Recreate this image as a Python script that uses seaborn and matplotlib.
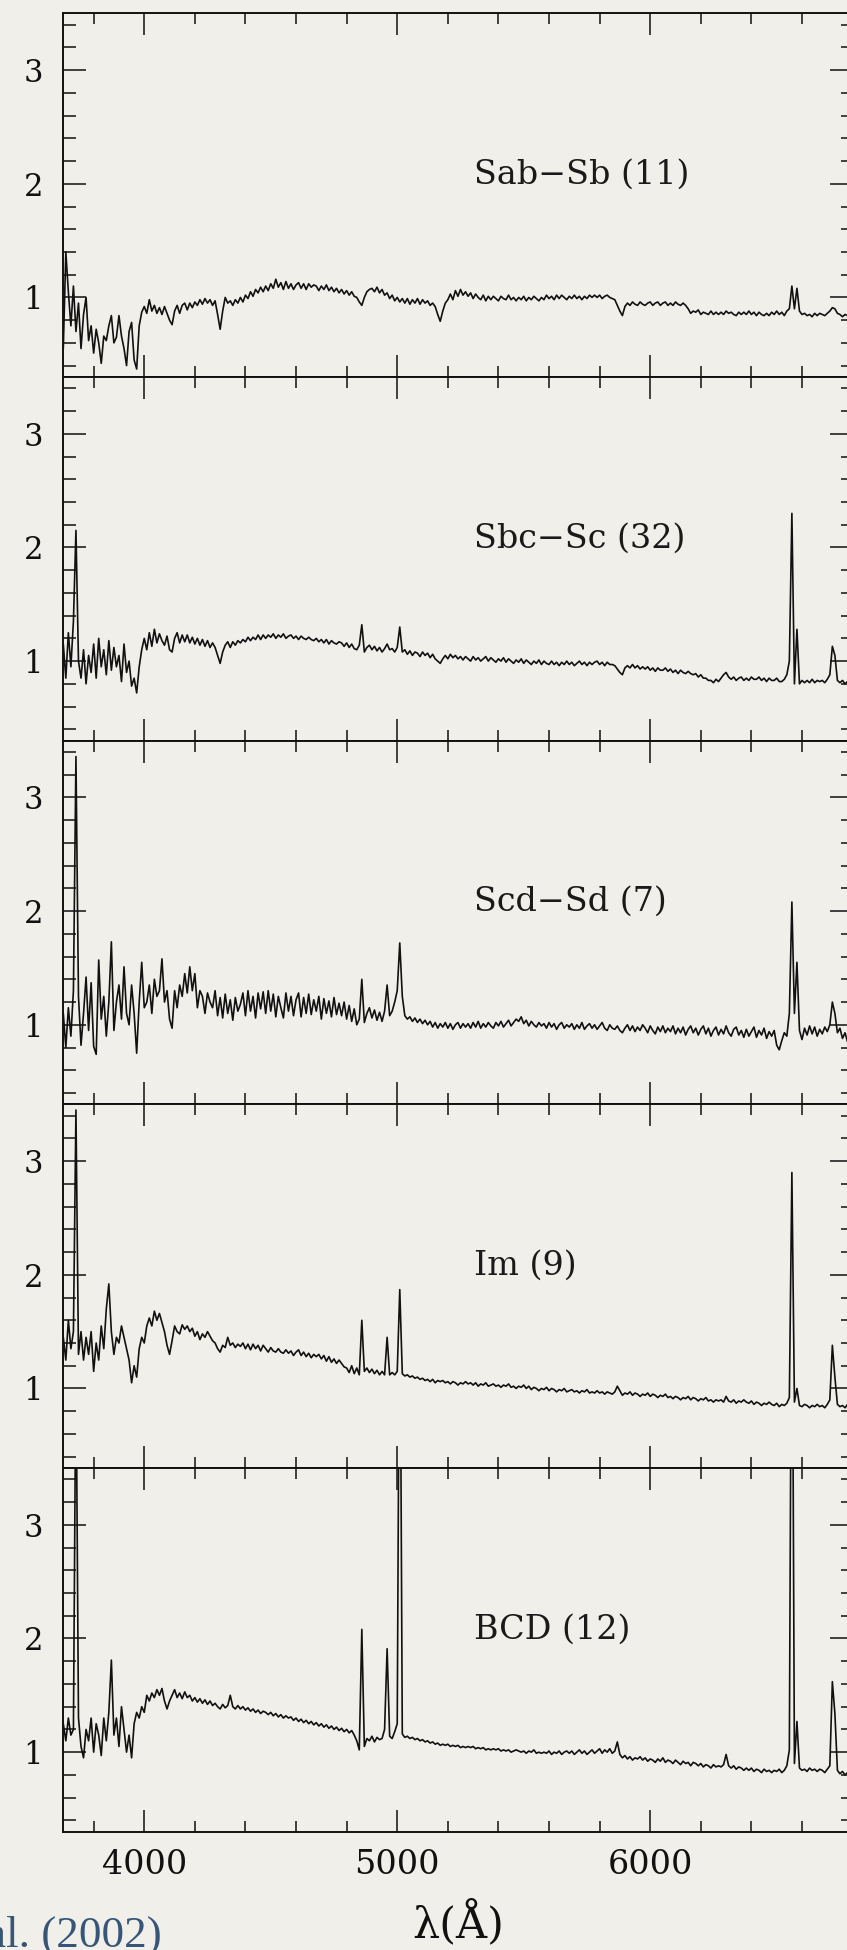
import numpy as np
import pandas as pd
import matplotlib
matplotlib.use("Agg")
import matplotlib.pyplot as plt
from matplotlib.ticker import MultipleLocator, FixedLocator
import seaborn as sns

# Wavelength sampling of the template spectra (Angstrom)
WL_START = 3680
WL_STEP = 10

# Normalised mean spectra, one value per 10 A step from 3680 A, rows of 100 A
sab_sb = [
    0.55, 1.40, 1.05, 0.75, 1.10, 0.70, 0.95, 0.55, 0.85, 1.00,
    0.62, 0.75, 0.51, 0.72, 0.60, 0.42, 0.66, 0.62, 0.75, 0.84,
    0.60, 0.65, 0.84, 0.66, 0.55, 0.40, 0.70, 0.78, 0.45, 0.37,
    0.75, 0.87, 0.92, 0.86, 0.98, 0.88, 0.93, 0.86, 0.91, 0.85,
    0.92, 0.86, 0.80, 0.76, 0.88, 0.93, 0.86, 0.93, 0.95, 0.89,
    0.95, 0.91, 0.96, 0.93, 0.98, 0.94, 0.99, 0.95, 0.98, 0.93,
    0.97, 0.85, 0.72, 0.88, 1.00, 0.95, 0.97, 0.93, 0.98, 0.95,
    1.00, 0.96, 1.02, 0.99, 1.05, 1.01, 1.07, 1.04, 1.09, 1.05,
    1.10, 1.06, 1.12, 1.08, 1.16, 1.09, 1.13, 1.07, 1.14, 1.08,
    1.12, 1.07, 1.11, 1.13, 1.08, 1.12, 1.07, 1.12, 1.09, 1.11,
    1.10, 1.06, 1.10, 1.07, 1.11, 1.06, 1.09, 1.05, 1.08, 1.04,
    1.07, 1.03, 1.06, 1.02, 1.05, 1.01, 1.00, 0.96, 0.93, 1.00,
    1.05, 1.07, 1.08, 1.05, 1.09, 1.04, 1.07, 1.02, 1.04, 0.99,
    1.02, 0.97, 1.00, 0.96, 0.99, 0.95, 0.99, 0.94, 0.98, 0.95,
    0.99, 0.94, 0.98, 0.95, 0.97, 0.93, 0.95, 0.92, 0.85, 0.79,
    0.88, 0.95, 0.98, 1.03, 0.98, 1.06, 1.01, 1.07, 1.02, 1.05,
    1.01, 1.04, 0.99, 1.03, 1.00, 0.98, 1.02, 0.97, 1.01, 0.98,
    1.01, 0.99, 0.97, 1.01, 0.99, 0.98, 1.02, 0.98, 1.00, 0.97,
    1.00, 0.98, 1.01, 0.97, 1.00, 0.98, 1.01, 0.99, 0.97, 1.00,
    0.98, 1.02, 0.99, 1.01, 0.98, 1.02, 0.99, 1.02, 1.00, 0.98,
    1.01, 0.99, 1.02, 0.99, 1.01, 0.98, 1.01, 0.99, 1.02, 1.00,
    1.02, 1.00, 1.02, 0.99, 1.01, 1.02, 1.00, 0.99, 0.98, 0.93,
    0.88, 0.84, 0.92, 0.95, 0.93, 0.96, 0.94, 0.93, 0.96, 0.94,
    0.93, 0.95, 0.96, 0.93, 0.95, 0.96, 0.93, 0.95, 0.96, 0.93,
    0.95, 0.93, 0.96, 0.94, 0.93, 0.95, 0.93, 0.90, 0.86, 0.88,
    0.87, 0.89, 0.85, 0.87, 0.86, 0.85, 0.88, 0.85, 0.87, 0.85,
    0.87, 0.85, 0.88, 0.86, 0.87, 0.85, 0.84, 0.87, 0.85, 0.87,
    0.85, 0.88, 0.85, 0.87, 0.84, 0.87, 0.85, 0.84, 0.86, 0.84,
    0.87, 0.85, 0.88, 0.85, 0.87, 0.84, 0.88, 0.90, 1.10, 0.90,
    1.08, 0.88, 0.85, 0.86, 0.84, 0.85, 0.83, 0.86, 0.84, 0.86,
    0.85, 0.84, 0.86, 0.88, 0.91, 0.90, 0.86, 0.85, 0.83, 0.85,
    0.84, 0.85, 0.84,
]

sbc_sc = [
    1.15, 0.85, 1.25, 0.95, 1.35, 2.15, 1.00, 0.85, 1.10, 0.80,
    1.05, 0.90, 1.15, 0.85, 1.20, 0.95, 1.10, 0.88, 1.18, 0.92,
    1.12, 0.95, 1.05, 0.82, 1.15, 0.90, 1.00, 0.78, 0.85, 0.72,
    0.95, 1.10, 1.20, 1.10, 1.25, 1.13, 1.28, 1.16, 1.24, 1.18,
    1.14, 1.22, 1.10, 1.08, 1.20, 1.25, 1.16, 1.23, 1.17, 1.23,
    1.16, 1.21, 1.15, 1.20, 1.14, 1.19, 1.13, 1.18, 1.12, 1.16,
    1.12, 1.05, 0.98, 1.08, 1.14, 1.17, 1.12, 1.17, 1.14, 1.18,
    1.16, 1.19, 1.17, 1.21, 1.18, 1.21, 1.19, 1.23, 1.19, 1.23,
    1.20, 1.23, 1.21, 1.24, 1.20, 1.23, 1.21, 1.24, 1.20, 1.22,
    1.23, 1.20, 1.22, 1.19, 1.22, 1.20, 1.19, 1.21, 1.19, 1.18,
    1.20, 1.17, 1.19, 1.16, 1.19, 1.15, 1.18, 1.16, 1.15, 1.17,
    1.16, 1.13, 1.16, 1.12, 1.15, 1.11, 1.10, 1.14, 1.32, 1.08,
    1.12, 1.14, 1.10, 1.13, 1.09, 1.12, 1.08, 1.11, 1.15, 1.10,
    1.11, 1.08, 1.12, 1.30, 1.08, 1.10, 1.06, 1.09, 1.05, 1.08,
    1.07, 1.04, 1.08, 1.05, 1.07, 1.03, 1.06, 1.02, 1.00, 0.98,
    1.02, 1.05, 1.02, 1.06, 1.03, 1.05, 1.02, 1.04, 1.01, 1.04,
    1.02, 1.00, 1.04, 1.01, 1.03, 1.00, 1.02, 1.04, 1.00, 1.03,
    1.01, 0.99, 1.02, 1.00, 1.03, 0.99, 1.02, 1.00, 0.98, 1.01,
    0.99, 1.02, 0.98, 1.01, 0.99, 0.97, 1.00, 0.98, 1.01, 0.97,
    1.00, 0.98, 0.97, 1.00, 0.97, 0.99, 0.96, 0.99, 0.97, 1.00,
    0.97, 0.99, 0.96, 0.98, 1.00, 0.97, 0.99, 0.96, 0.99, 0.97,
    0.99, 1.00, 0.97, 0.99, 0.96, 0.99, 0.97, 0.97, 0.96, 0.93,
    0.90, 0.88, 0.94, 0.96, 0.94, 0.97, 0.94, 0.96, 0.93, 0.95,
    0.93, 0.95, 0.92, 0.94, 0.91, 0.94, 0.92, 0.92, 0.94, 0.91,
    0.93, 0.90, 0.92, 0.89, 0.92, 0.90, 0.89, 0.91, 0.89, 0.88,
    0.89, 0.86, 0.88, 0.85, 0.85, 0.83, 0.83, 0.81, 0.84, 0.82,
    0.85, 0.88, 0.90, 0.86, 0.84, 0.86, 0.83, 0.85, 0.86, 0.83,
    0.85, 0.83, 0.86, 0.84, 0.84, 0.86, 0.83, 0.85, 0.82, 0.85,
    0.83, 0.83, 0.85, 0.82, 0.82, 0.84, 0.88, 1.00, 2.30, 0.80,
    1.28, 0.80, 0.83, 0.81, 0.83, 0.81, 0.84, 0.81, 0.83, 0.82,
    0.83, 0.81, 0.84, 0.88, 1.13, 1.05, 0.83, 0.81, 0.83, 0.80,
    0.82, 0.81, 0.82,
]

scd_sd = [
    1.10, 0.80, 1.15, 0.90, 1.30, 3.36, 1.25, 0.82, 1.10, 1.42,
    0.95, 1.37, 0.81, 0.74, 1.57, 1.05, 1.25, 0.90, 1.20, 1.73,
    0.95, 1.20, 1.35, 1.05, 1.51, 1.10, 1.00, 1.35, 1.10, 0.75,
    1.20, 1.55, 1.15, 1.20, 1.35, 1.10, 1.40, 1.25, 1.30, 1.58,
    1.20, 1.30, 1.05, 0.97, 1.30, 1.15, 1.35, 1.25, 1.45, 1.28,
    1.51, 1.30, 1.45, 1.15, 1.30, 1.25, 1.10, 1.28, 1.20, 1.15,
    1.30, 1.08, 1.24, 1.06, 1.27, 1.10, 1.22, 1.04, 1.24, 1.12,
    1.18, 1.28, 1.08, 1.30, 1.12, 1.25, 1.06, 1.28, 1.14, 1.29,
    1.10, 1.30, 1.12, 1.27, 1.07, 1.25, 1.15, 1.06, 1.28, 1.12,
    1.25, 1.08, 1.22, 1.28, 1.07, 1.24, 1.10, 1.27, 1.09, 1.22,
    1.12, 1.25, 1.05, 1.23, 1.10, 1.21, 1.07, 1.24, 1.09, 1.19,
    1.08, 1.20, 1.05, 1.17, 1.03, 1.14, 1.00, 1.05, 1.40, 1.02,
    1.10, 1.15, 1.06, 1.13, 1.04, 1.11, 1.03, 1.12, 1.35, 1.08,
    1.12, 1.20, 1.30, 1.72, 1.25, 1.08, 1.05, 1.07, 1.03, 1.06,
    1.02, 1.05, 1.01, 1.04, 1.00, 1.03, 0.98, 1.02, 0.97, 1.01,
    0.98, 1.02, 0.97, 1.01, 0.96, 1.00, 1.02, 0.97, 1.01, 0.98,
    1.01, 0.97, 1.02, 0.98, 1.03, 0.97, 1.01, 0.98, 1.02, 0.99,
    0.97, 1.02, 0.99, 1.03, 0.98, 1.01, 1.04, 0.99, 1.02, 1.05,
    1.03, 1.07, 1.01, 1.04, 0.99, 1.03, 1.00, 0.98, 1.02, 0.99,
    1.01, 0.97, 1.02, 0.98, 1.01, 0.96, 1.00, 1.02, 0.97, 1.00,
    0.98, 1.01, 0.96, 1.00, 0.97, 1.02, 0.96, 0.99, 1.01, 0.97,
    1.00, 0.96, 0.99, 1.02, 0.97, 0.95, 1.00, 0.97, 0.96, 0.99,
    0.95, 0.93, 0.97, 1.00, 0.95, 0.99, 0.94, 0.98, 0.95, 1.00,
    0.97, 0.93, 0.99, 0.95, 0.92, 0.98, 0.94, 0.99, 0.93, 0.97,
    0.94, 0.99, 0.92, 0.97, 0.93, 0.98, 0.91, 0.96, 0.99, 0.93,
    0.97, 0.91, 0.96, 0.99, 0.92, 0.97, 0.90, 0.95, 0.98, 0.91,
    0.96, 0.92, 0.99, 0.93, 0.90, 0.96, 0.98, 0.91, 0.95, 0.89,
    0.96, 0.90, 0.94, 0.98, 0.89, 0.95, 0.91, 0.97, 0.88, 0.94,
    0.90, 0.95, 0.82, 0.78, 0.86, 0.93, 0.90, 1.10, 2.08, 1.10,
    1.55, 0.95, 0.87, 0.97, 0.91, 0.99, 0.92, 0.98, 0.90, 0.96,
    0.92, 0.98, 0.94, 1.00, 1.20, 1.10, 0.93, 0.97, 0.88, 0.93,
    0.85, 0.92, 0.86,
]

im = [
    1.45, 1.25, 1.60, 1.35, 1.50, 3.45, 1.30, 1.50, 1.25, 1.45,
    1.30, 1.50, 1.15, 1.40, 1.25, 1.55, 1.35, 1.70, 1.92, 1.50,
    1.30, 1.45, 1.40, 1.55, 1.45, 1.35, 1.25, 1.05, 1.20, 1.10,
    1.35, 1.45, 1.40, 1.55, 1.62, 1.55, 1.68, 1.60, 1.66, 1.58,
    1.50, 1.38, 1.30, 1.42, 1.55, 1.50, 1.48, 1.56, 1.52, 1.55,
    1.50, 1.53, 1.46, 1.50, 1.43, 1.48, 1.45, 1.50, 1.46, 1.42,
    1.40, 1.35, 1.32, 1.38, 1.36, 1.45, 1.38, 1.40, 1.36, 1.39,
    1.37, 1.40, 1.35, 1.39, 1.34, 1.39, 1.35, 1.38, 1.33, 1.38,
    1.35, 1.32, 1.36, 1.33, 1.32, 1.35, 1.32, 1.31, 1.34, 1.31,
    1.33, 1.29, 1.32, 1.34, 1.29, 1.32, 1.28, 1.31, 1.27, 1.30,
    1.28, 1.30, 1.26, 1.29, 1.24, 1.28, 1.23, 1.26, 1.22, 1.25,
    1.22, 1.19, 1.18, 1.14, 1.20, 1.13, 1.18, 1.12, 1.60, 1.15,
    1.18, 1.14, 1.17, 1.13, 1.16, 1.12, 1.15, 1.12, 1.45, 1.12,
    1.14, 1.12, 1.15, 1.87, 1.13, 1.11, 1.12, 1.10, 1.11, 1.09,
    1.10, 1.08, 1.09, 1.07, 1.08, 1.06, 1.08, 1.05, 1.07, 1.06,
    1.07, 1.05, 1.06, 1.04, 1.06, 1.05, 1.03, 1.05, 1.04, 1.06,
    1.04, 1.05, 1.03, 1.05, 1.02, 1.04, 1.03, 1.05, 1.02, 1.03,
    1.04, 1.02, 1.03, 1.01, 1.03, 1.02, 1.04, 1.01, 1.02, 1.00,
    1.02, 1.01, 1.03, 1.00, 1.02, 0.99, 1.01, 1.00, 0.98, 1.00,
    0.99, 1.01, 0.98, 1.00, 0.99, 0.97, 0.99, 0.98, 1.00, 0.97,
    0.98, 0.99, 0.97, 0.98, 0.96, 0.98, 0.97, 0.99, 0.96, 0.97,
    0.96, 0.98, 0.96, 0.97, 0.95, 0.97, 0.96, 0.95, 0.97, 1.02,
    0.98, 0.94, 0.96, 0.95, 0.97, 0.94, 0.96, 0.95, 0.93, 0.95,
    0.94, 0.96, 0.93, 0.95, 0.94, 0.92, 0.94, 0.93, 0.95, 0.92,
    0.93, 0.91, 0.93, 0.92, 0.90, 0.92, 0.91, 0.93, 0.90, 0.92,
    0.91, 0.89, 0.91, 0.90, 0.92, 0.89, 0.90, 0.88, 0.90, 0.89,
    0.90, 0.88, 0.93, 0.89, 0.88, 0.90, 0.87, 0.89, 0.88, 0.90,
    0.88, 0.87, 0.89, 0.86, 0.88, 0.87, 0.85, 0.87, 0.86, 0.88,
    0.86, 0.85, 0.87, 0.84, 0.86, 0.85, 0.87, 0.92, 2.90, 0.88,
    1.00, 0.85, 0.84, 0.86, 0.85, 0.83, 0.85, 0.84, 0.86, 0.84,
    0.85, 0.83, 0.86, 0.90, 1.38, 1.10, 0.86, 0.84, 0.85, 0.83,
    0.86, 0.84, 0.85,
]

bcd = [
    1.25, 1.10, 1.30, 1.15, 1.20, 4.50, 1.30, 1.05, 0.95, 1.20,
    1.10, 1.30, 1.00, 1.25, 1.15, 0.97, 1.30, 1.10, 1.35, 1.81,
    1.15, 1.30, 1.05, 1.40, 1.20, 1.00, 1.15, 0.95, 1.25, 1.35,
    1.30, 1.40, 1.35, 1.50, 1.45, 1.52, 1.48, 1.55, 1.50, 1.56,
    1.45, 1.38, 1.45, 1.50, 1.55, 1.48, 1.52, 1.47, 1.53, 1.48,
    1.50, 1.45, 1.48, 1.44, 1.47, 1.43, 1.46, 1.42, 1.45, 1.41,
    1.43, 1.40, 1.38, 1.42, 1.39, 1.41, 1.50, 1.40, 1.38, 1.41,
    1.38, 1.40, 1.37, 1.39, 1.36, 1.38, 1.35, 1.37, 1.34, 1.36,
    1.35, 1.33, 1.35, 1.32, 1.34, 1.31, 1.33, 1.30, 1.32, 1.30,
    1.31, 1.28, 1.30, 1.27, 1.29, 1.26, 1.28, 1.25, 1.27, 1.24,
    1.26, 1.23, 1.25, 1.22, 1.24, 1.21, 1.23, 1.20, 1.22, 1.19,
    1.21, 1.18, 1.20, 1.17, 1.19, 1.15, 1.10, 1.02, 2.08, 1.05,
    1.12, 1.10, 1.14, 1.09, 1.13, 1.11, 1.12, 1.20, 1.91, 1.14,
    1.12, 1.18, 1.25, 5.60, 1.16, 1.13, 1.14, 1.12, 1.13, 1.11,
    1.12, 1.10, 1.11, 1.09, 1.10, 1.08, 1.09, 1.07, 1.08, 1.06,
    1.07, 1.06, 1.07, 1.05, 1.06, 1.05, 1.06, 1.04, 1.05, 1.04,
    1.05, 1.04, 1.05, 1.03, 1.04, 1.03, 1.04, 1.02, 1.03, 1.02,
    1.03, 1.02, 1.03, 1.01, 1.02, 1.01, 1.02, 1.00, 1.01, 1.02,
    1.01, 1.00, 1.01, 0.99, 1.01, 1.00, 1.02, 0.99, 1.00, 0.99,
    1.00, 0.99, 1.01, 0.98, 1.00, 0.99, 1.01, 0.98, 1.00, 1.01,
    0.99, 1.01, 0.98, 1.00, 1.02, 0.99, 1.01, 0.98, 1.00, 1.02,
    0.99, 1.01, 1.03, 0.99, 1.02, 1.00, 1.03, 0.99, 1.01, 1.09,
    0.98, 0.95, 0.97, 0.94, 0.96, 0.93, 0.95, 0.94, 0.96, 0.93,
    0.95, 0.92, 0.94, 0.93, 0.91, 0.94, 0.92, 0.95, 0.91, 0.93,
    0.92, 0.90, 0.93, 0.91, 0.89, 0.92, 0.90, 0.91, 0.88, 0.91,
    0.90, 0.88, 0.90, 0.87, 0.89, 0.88, 0.86, 0.89, 0.87, 0.88,
    0.87, 0.89, 0.98, 0.88, 0.86, 0.88, 0.85, 0.87, 0.86, 0.84,
    0.86, 0.84, 0.86, 0.83, 0.85, 0.84, 0.82, 0.85, 0.83, 0.84,
    0.82, 0.84, 0.83, 0.85, 0.82, 0.84, 0.88, 1.02, 6.00, 0.90,
    1.27, 0.86, 0.84, 0.85, 0.83, 0.86, 0.84, 0.85, 0.83, 0.85,
    0.84, 0.82, 0.85, 0.88, 1.62, 1.34, 0.84, 0.81, 0.83, 0.80,
    0.82, 0.79, 0.80,
]

spectra = [sab_sb, sbc_sc, scd_sd, im, bcd]
panel_labels = ["Sab\u2212Sb (11)", "Sbc\u2212Sc (32)", "Scd\u2212Sd (7)", "Im (9)", "BCD (12)"]
x_major = [4000, 5000, 6000]
y_major = [1, 2, 3]

# ---------------------------------------------------------------- style
BG = "#f1efea"
INK = "#111111"
sns.set_theme(style="ticks")
plt.rcParams["font.family"] = ["DejaVu Serif", "DejaVu Sans"]
plt.rcParams.update({
    "axes.facecolor": BG,
    "figure.facecolor": BG,
    "axes.edgecolor": INK,
    "axes.linewidth": 1.4,
    "xtick.color": INK,
    "ytick.color": INK,
})

W, H = 847, 1950
fig = plt.figure(figsize=(W / 100, H / 100), dpi=100)

left, right = 63.3 / W, 852.6 / W
top, bottom = 1 - 13.3 / H, 1 - 1831.7 / H
ph = (top - bottom) / len(spectra)

axes = []
for i, (flux, label) in enumerate(zip(spectra, panel_labels)):
    ax = fig.add_axes([left, top - (i + 1) * ph, right - left, ph],
                      sharex=axes[0] if axes else None)
    ax.set_facecolor(BG)
    df = pd.DataFrame({
        "wavelength": WL_START + WL_STEP * np.arange(len(flux)),
        "flux": flux,
    })
    sns.lineplot(data=df, x="wavelength", y="flux", ax=ax, color=INK,
                 linewidth=1.2, estimator=None, sort=False)
    ax.set_xlim(3680, 6800)
    ax.set_ylim(0.3, 3.5)
    ax.set_xlabel("")
    ax.set_ylabel("")

    ax.xaxis.set_major_locator(FixedLocator(x_major))
    ax.xaxis.set_minor_locator(MultipleLocator(200))
    ax.yaxis.set_major_locator(FixedLocator(y_major))
    ax.yaxis.set_minor_locator(MultipleLocator(0.2))
    ax.tick_params(axis="x", which="both", direction="in", top=True, bottom=True,
                   width=1.1, labelsize=24, pad=12.5)
    ax.tick_params(axis="x", which="major", length=15.6)
    ax.tick_params(axis="x", which="minor", length=7.9)
    ax.tick_params(axis="y", which="both", direction="in", left=True, right=True,
                   width=1.1, labelsize=22, pad=14.5)
    ax.tick_params(axis="y", which="major", length=16.5)
    ax.tick_params(axis="y", which="minor", length=9.0)
    if i < len(spectra) - 1:
        ax.tick_params(axis="x", labelbottom=False)
    for s in ax.spines.values():
        s.set_linewidth(1.4)
        s.set_color(INK)

    ax.text(0.520, 2.08, label, transform=ax.get_yaxis_transform(),
            fontsize=24, color="#1a1a1a", ha="left", va="center")
    axes.append(ax)

# Wavelength axis title
fig.text(458 / W, 1 - 1937 / H, "\u03bb(\u00c5)", fontsize=31, color=INK,
         ha="center", va="baseline")

# Source citation
fig.text(162 / W, 1 - 1946.5 / H, "et al. (2002)", fontsize=32.5, color="#375578",
         ha="right", va="baseline", family=["Liberation Serif", "DejaVu Serif"])

fig.savefig("out.png", dpi=100, facecolor=BG)
